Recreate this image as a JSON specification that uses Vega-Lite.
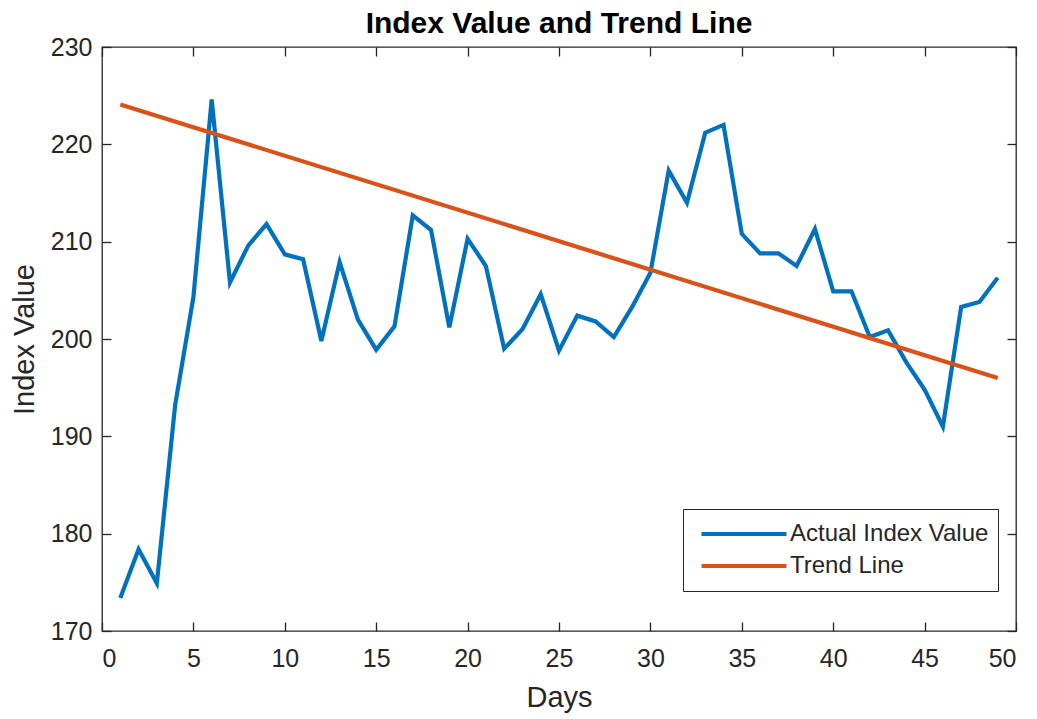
{
  "$schema": "https://vega.github.io/schema/vega-lite/v6.json",
  "autosize": "none",
  "width": 914,
  "height": 584,
  "padding": {"left": 102, "top": 47, "right": 21, "bottom": 88},
  "background": "white",
  "title": {
    "text": "Index Value and Trend Line",
    "font": "Liberation Sans",
    "fontSize": 30,
    "fontWeight": "bold",
    "color": "#000000",
    "anchor": "middle",
    "offset": -4
  },
  "config": {
    "view": {"stroke": "#262626", "strokeWidth": 1.3},
    "axis": {
      "domain": false,
      "grid": false,
      "labelFont": "Liberation Sans",
      "titleFont": "Liberation Sans",
      "labelColor": "#262626",
      "titleColor": "#262626",
      "tickColor": "#262626",
      "tickWidth": 1.3,
      "tickSize": -9,
      "labelFontSize": 25,
      "titleFontSize": 29,
      "titleFontWeight": "normal"
    }
  },
  "data": {
    "values": [
      {"day": 1, "value": 173.4, "series": "Actual Index Value"},
      {"day": 2, "value": 178.4, "series": "Actual Index Value"},
      {"day": 3, "value": 174.9, "series": "Actual Index Value"},
      {"day": 4, "value": 193.2, "series": "Actual Index Value"},
      {"day": 5, "value": 204.3, "series": "Actual Index Value"},
      {"day": 6, "value": 224.6, "series": "Actual Index Value"},
      {"day": 7, "value": 205.8, "series": "Actual Index Value"},
      {"day": 8, "value": 209.6, "series": "Actual Index Value"},
      {"day": 9, "value": 211.8, "series": "Actual Index Value"},
      {"day": 10, "value": 208.7, "series": "Actual Index Value"},
      {"day": 11, "value": 208.2, "series": "Actual Index Value"},
      {"day": 12, "value": 199.8, "series": "Actual Index Value"},
      {"day": 13, "value": 207.9, "series": "Actual Index Value"},
      {"day": 14, "value": 202.0, "series": "Actual Index Value"},
      {"day": 15, "value": 198.9, "series": "Actual Index Value"},
      {"day": 16, "value": 201.3, "series": "Actual Index Value"},
      {"day": 17, "value": 212.7, "series": "Actual Index Value"},
      {"day": 18, "value": 211.2, "series": "Actual Index Value"},
      {"day": 19, "value": 201.2, "series": "Actual Index Value"},
      {"day": 20, "value": 210.3, "series": "Actual Index Value"},
      {"day": 21, "value": 207.5, "series": "Actual Index Value"},
      {"day": 22, "value": 199.0, "series": "Actual Index Value"},
      {"day": 23, "value": 201.0, "series": "Actual Index Value"},
      {"day": 24, "value": 204.6, "series": "Actual Index Value"},
      {"day": 25, "value": 198.8, "series": "Actual Index Value"},
      {"day": 26, "value": 202.4, "series": "Actual Index Value"},
      {"day": 27, "value": 201.8, "series": "Actual Index Value"},
      {"day": 28, "value": 200.2, "series": "Actual Index Value"},
      {"day": 29, "value": 203.3, "series": "Actual Index Value"},
      {"day": 30, "value": 206.8, "series": "Actual Index Value"},
      {"day": 31, "value": 217.3, "series": "Actual Index Value"},
      {"day": 32, "value": 214.0, "series": "Actual Index Value"},
      {"day": 33, "value": 221.2, "series": "Actual Index Value"},
      {"day": 34, "value": 222.0, "series": "Actual Index Value"},
      {"day": 35, "value": 210.8, "series": "Actual Index Value"},
      {"day": 36, "value": 208.8, "series": "Actual Index Value"},
      {"day": 37, "value": 208.8, "series": "Actual Index Value"},
      {"day": 38, "value": 207.5, "series": "Actual Index Value"},
      {"day": 39, "value": 211.3, "series": "Actual Index Value"},
      {"day": 40, "value": 204.9, "series": "Actual Index Value"},
      {"day": 41, "value": 204.9, "series": "Actual Index Value"},
      {"day": 42, "value": 200.2, "series": "Actual Index Value"},
      {"day": 43, "value": 200.9, "series": "Actual Index Value"},
      {"day": 44, "value": 197.6, "series": "Actual Index Value"},
      {"day": 45, "value": 194.8, "series": "Actual Index Value"},
      {"day": 46, "value": 191.0, "series": "Actual Index Value"},
      {"day": 47, "value": 203.3, "series": "Actual Index Value"},
      {"day": 48, "value": 203.8, "series": "Actual Index Value"},
      {"day": 49, "value": 206.3, "series": "Actual Index Value"},
      {"day": 1, "value": 224.1, "series": "Trend Line"},
      {"day": 49, "value": 196.0, "series": "Trend Line"}
    ]
  },
  "layer": [
    {
      "transform": [{"filter": "datum.series === 'Actual Index Value'"}],
      "mark": {"type": "line", "strokeWidth": 4.2},
      "encoding": {
        "x": {
          "field": "day",
          "type": "quantitative",
          "scale": {"domain": [0, 50], "nice": false},
          "axis": {
            "orient": "bottom",
            "title": "Days",
            "values": [0, 5, 10, 15, 20, 25, 30, 35, 40, 45, 50],
            "labelPadding": 24,
            "titlePadding": 12
          }
        },
        "y": {
          "field": "value",
          "type": "quantitative",
          "scale": {"domain": [170, 230], "nice": false, "zero": false},
          "axis": {
            "orient": "left",
            "title": "Index Value",
            "values": [170, 180, 190, 200, 210, 220, 230],
            "labelPadding": 19,
            "titlePadding": 11
          }
        },
        "color": {
          "field": "series",
          "type": "nominal",
          "scale": {
            "domain": ["Actual Index Value", "Trend Line"],
            "range": ["#0072BD", "#D95319"]
          },
          "legend": {
            "title": null,
            "orient": "none",
            "legendX": 581,
            "legendY": 462,
            "symbolType": "stroke",
            "symbolSize": 7225,
            "symbolStrokeWidth": 4.2,
            "symbolOffset": 7,
            "clipHeight": 32,
            "labelFont": "Liberation Sans",
            "labelFontSize": 24,
            "labelColor": "#262626",
            "labelOffset": 1,
            "labelLimit": 400,
            "padding": 9,
            "rowPadding": 0,
            "strokeColor": "#262626",
            "fillColor": "white"
          }
        }
      }
    },
    {
      "transform": [{"filter": "datum.series === 'Trend Line'"}],
      "mark": {"type": "line", "strokeWidth": 4.2},
      "encoding": {
        "x": {
          "field": "day",
          "type": "quantitative",
          "axis": {
            "orient": "top",
            "title": null,
            "labels": false,
            "values": [0, 5, 10, 15, 20, 25, 30, 35, 40, 45, 50]
          }
        },
        "y": {
          "field": "value",
          "type": "quantitative",
          "axis": {
            "orient": "right",
            "title": null,
            "labels": false,
            "values": [170, 180, 190, 200, 210, 220, 230]
          }
        },
        "color": {"field": "series", "type": "nominal"}
      }
    }
  ],
  "resolve": {"axis": {"x": "independent", "y": "independent"}}
}
